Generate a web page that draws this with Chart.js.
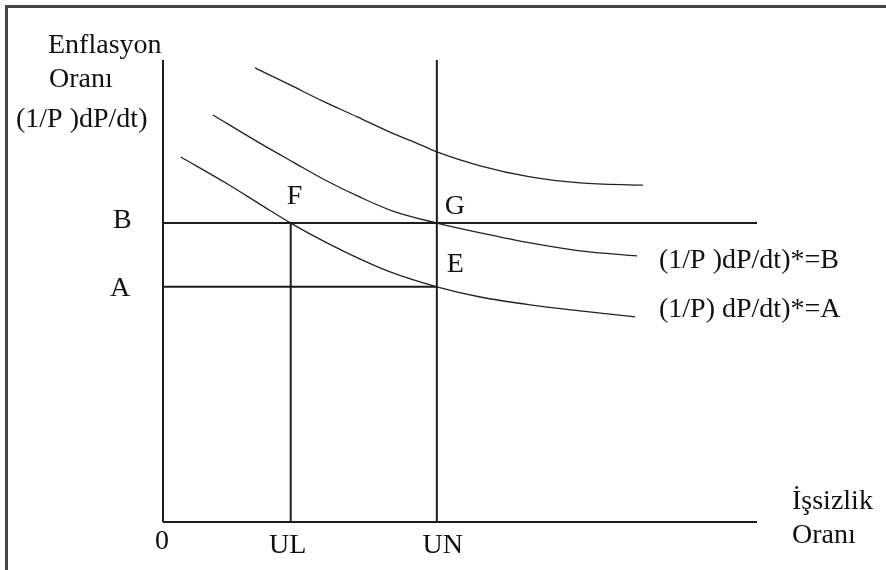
<!DOCTYPE html>
<html>
<head>
<meta charset="utf-8">
<script src="https://cdn.jsdelivr.net/npm/chart.js@4"></script>
<style>
  html, body { margin: 0; padding: 0; background: #fff; }
  #wrap { position: relative; width: 886px; height: 570px; }
</style>
</head>
<body>
<div id="wrap"><canvas id="chart" width="886" height="570"></canvas></div>
<script>
// Reference levels (axis units 0..100)
const levelB = 64.7;
const levelA = 50.9;
const unempUL = 21.5;
const unempUN = 46.1;
const axisMax = 100;

// Short-run Phillips curve with expected inflation = A
const curveAx = [3.0, 10.8, 16.3, 21.5, 27.6, 33.2, 38.7, 46.1, 53.4, 61.8, 70.2, 79.5];
const curveAy = [79.0, 73.2, 68.8, 64.7, 60.4, 56.9, 53.9, 50.9, 48.7, 47.0, 45.7, 44.4];

// Short-run Phillips curve with expected inflation = B
const curveBx = [8.4, 16.3, 21.9, 27.6, 33.2, 38.7, 46.1, 53.4, 61.8, 70.2, 79.8];
const curveBy = [88.1, 82.0, 77.9, 73.8, 70.3, 67.3, 64.7, 62.6, 60.4, 58.7, 57.6];

// Highest short-run curve
const curveCx = [15.5, 21.4, 26.9, 32.7, 38.2, 43.8, 46.1, 53.4, 61.8, 70.2, 80.8];
const curveCy = [98.3, 94.6, 91.1, 87.7, 84.4, 81.4, 80.1, 77.1, 74.7, 73.4, 72.9];

const yTickLabels = ["B", "A"];
const xTickLabels = ["0", "UL", "UN"];

const toPoints = (xs, ys) => xs.map((x, i) => ({ x: x, y: ys[i] }));

const lineColor = "#1c1c1c";
const curveColor = "#222";

const segment = (pts) => ({
  data: pts,
  borderColor: lineColor,
  borderWidth: 2,
  pointRadius: 0,
  tension: 0,
  clip: false
});

const curve = (pts) => ({
  data: pts,
  borderColor: curveColor,
  borderWidth: 1.3,
  pointRadius: 0,
  cubicInterpolationMode: "monotone",
  clip: false
});

const serif = '28px "Liberation Serif", "Times New Roman", serif';

// frame + text labels
const labelsPlugin = {
  id: "labels",
  beforeDraw(chart) {
    const ctx = chart.ctx;
    ctx.save();
    ctx.fillStyle = "#fff";
    ctx.fillRect(0, 0, chart.width, chart.height);
    ctx.fillStyle = "#444";
    ctx.fillRect(5, 5, chart.width - 5, 3);
    ctx.fillRect(5, 5, 3, chart.height - 5);
    ctx.restore();
  },
  afterDraw(chart) {
    const ctx = chart.ctx;
    const xs = chart.scales.x;
    const ys = chart.scales.y;
    const pB = ys.getPixelForValue(levelB);
    const pA = ys.getPixelForValue(levelA);
    const pUL = xs.getPixelForValue(unempUL);
    const pUN = xs.getPixelForValue(unempUN);
    const p0x = xs.getPixelForValue(0);
    ctx.save();
    ctx.font = serif;
    ctx.fillStyle = "#111";
    ctx.textBaseline = "alphabetic";

    // y axis title
    ctx.textAlign = "left";
    ctx.fillText("Enflasyon", 48, 53);
    ctx.fillText("Oranı", 49, 87);
    ctx.fillText("(1/P )dP/dt)", 16, 127);

    // level labels
    ctx.fillText(yTickLabels[0], 113, pB + 5);
    ctx.fillText(yTickLabels[1], 110, pA + 9);

    // points
    ctx.fillText("F", pUL - 4, pB - 19);
    ctx.fillText("G", pUN + 8, pB - 9);
    ctx.fillText("E", pUN + 10, pA - 15);

    // curve labels
    ctx.fillText("(1/P )dP/dt)*=B", 659, 268);
    ctx.fillText("(1/P) dP/dt)*=A", 659, 317);

    // x tick labels
    ctx.fillText(xTickLabels[0], p0x - 8, 549);
    ctx.textAlign = "center";
    ctx.fillText(xTickLabels[1], pUL - 3, 553);
    ctx.fillText(xTickLabels[2], pUN + 6, 553);

    // x axis title
    ctx.textAlign = "left";
    ctx.fillText("İşsizlik", 792, 509);
    ctx.fillText("Oranı", 792, 543);
    ctx.restore();
  }
};

new Chart(document.getElementById("chart"), {
  type: "line",
  data: {
    datasets: [
      segment([{ x: 0, y: 0 }, { x: 0, y: axisMax }]),
      segment([{ x: 0, y: 0 }, { x: axisMax, y: 0 }]),
      segment([{ x: 0, y: levelB }, { x: axisMax, y: levelB }]),
      segment([{ x: 0, y: levelA }, { x: unempUN, y: levelA }]),
      segment([{ x: unempUL, y: 0 }, { x: unempUL, y: levelB }]),
      segment([{ x: unempUN, y: 0 }, { x: unempUN, y: axisMax }]),
      curve(toPoints(curveAx, curveAy)),
      curve(toPoints(curveBx, curveBy)),
      curve(toPoints(curveCx, curveCy))
    ]
  },
  options: {
    responsive: false,
    animation: false,
    events: [],
    layout: { padding: { left: 163, right: 129, top: 60, bottom: 48 } },
    plugins: { legend: { display: false }, tooltip: { enabled: false } },
    scales: {
      x: { type: "linear", min: 0, max: axisMax, display: false },
      y: { type: "linear", min: 0, max: axisMax, display: false }
    }
  },
  plugins: [labelsPlugin]
});
</script>
</body>
</html>
